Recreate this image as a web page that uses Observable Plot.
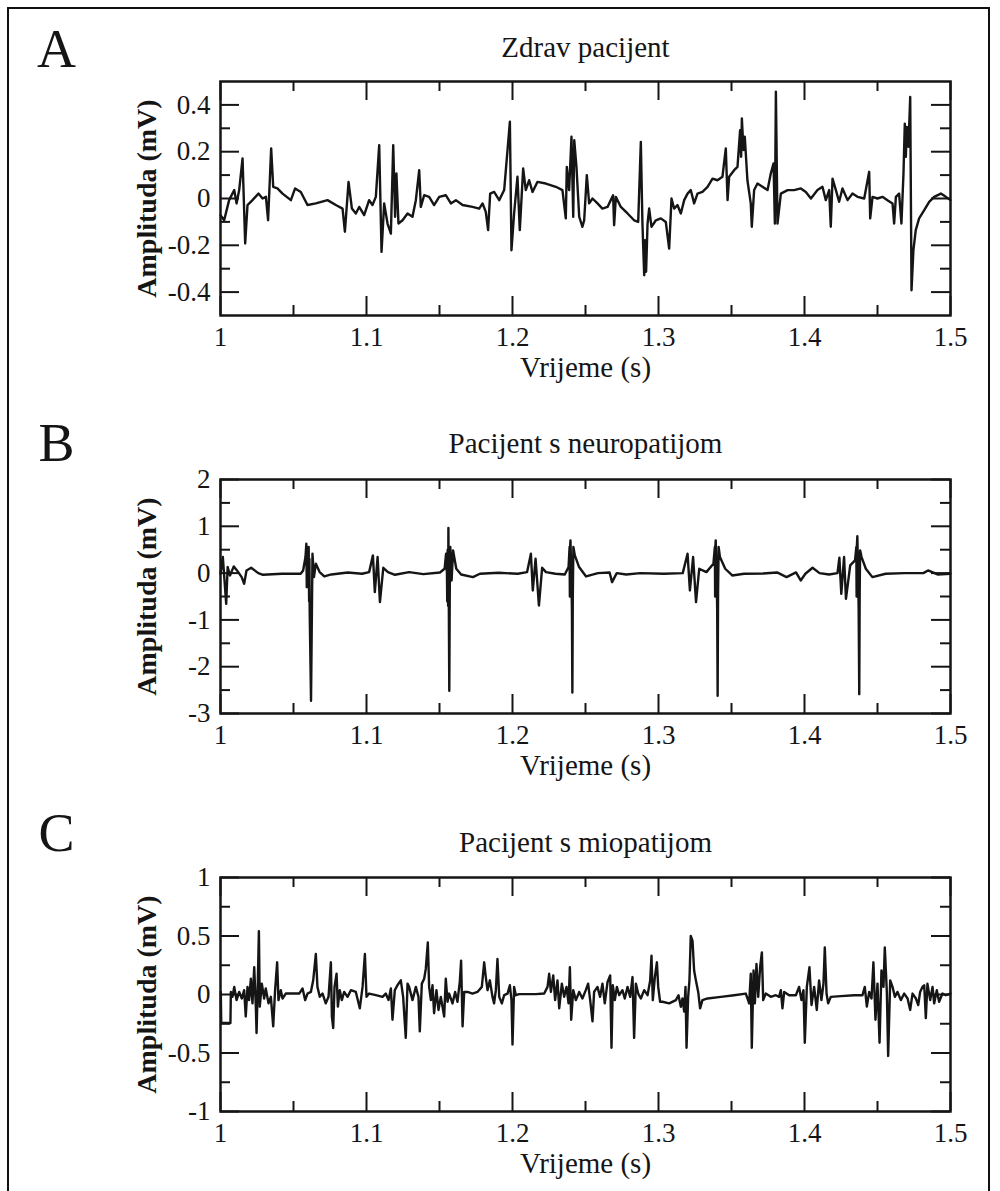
<!DOCTYPE html>
<html>
<head>
<meta charset="utf-8">
<script src="https://cdn.jsdelivr.net/npm/d3@7"></script>
<script src="https://cdn.jsdelivr.net/npm/@observablehq/plot@0.6"></script>
<style>
  html, body { margin: 0; padding: 0; background: #fff; overflow: hidden; }
  #page { position: relative; width: 1000px; height: 1191px; overflow: hidden; background: #fff; }
  #border { position: absolute; left: 7px; top: 7px; width: 983px; height: 1220px; border: 2px solid #111; box-sizing: border-box; }
  .panel { position: absolute; left: 0; }
  .panel svg text { font-family: 'Liberation Serif', 'Times New Roman', serif; }
</style>
</head>
<body>
<div id="page"><div id="border"></div></div>
<script>
// ---------- data ----------
const xTickValues = [1, 1.1, 1.2, 1.3, 1.4, 1.5];
const xTickLabels = ["1", "1.1", "1.2", "1.3", "1.4", "1.5"];
const xMinorTicks = [1.05, 1.15, 1.25, 1.35, 1.45];
const xAxisLabel = "Vrijeme (s)";
const yAxisLabel = "Amplituda (mV)";

const panelLetters = ["A", "B", "C"];
const panelTitles = ["Zdrav pacijent", "Pacijent s neuropatijom", "Pacijent s miopatijom"];

const aYDomain = [-0.5, 0.5];
const aYTicks = [-0.4, -0.2, 0, 0.2, 0.4];
const aYLabels = ["-0.4", "-0.2", "0", "0.2", "0.4"];
const aYMinor = [-0.3, -0.1, 0.1, 0.3];

const bYDomain = [-3, 2];
const bYTicks = [-3, -2, -1, 0, 1, 2];
const bYLabels = ["-3", "-2", "-1", "0", "1", "2"];
const bYMinor = [-2.5, -1.5, -0.5, 0.5, 1.5];

const cYDomain = [-1, 1];
const cYTicks = [-1, -0.5, 0, 0.5, 1];
const cYLabels = ["-1", "-0.5", "0", "0.5", "1"];
const cYMinor = [-0.75, -0.25, 0.25, 0.75];

// [time (s), amplitude (mV)]
const healthySignal = [
[1.0000,-0.071],[1.0025,-0.093],[1.0059,-0.007],[1.0094,0.036],[1.0110,-0.021],[1.0128,0.036],[1.0151,0.171],[1.0169,-0.192],[1.0185,-0.028],[1.0219,-0.007],
[1.0260,0.021],[1.0288,0],[1.0311,0.007],[1.0326,-0.093],[1.0347,0.214],[1.0361,0.050],[1.0390,0.043],[1.0425,0.021],[1.0482,-0.007],[1.0511,0.043],
[1.0550,0.028],[1.0596,-0.028],[1.0653,-0.021],[1.0733,-0.007],[1.0790,-0.028],[1.0836,-0.043],[1.0852,-0.142],[1.0877,0.071],[1.0900,-0.043],[1.0927,-0.064],
[1.0950,-0.036],[1.0984,-0.071],[1.1018,-0.007],[1.1041,-0.028],[1.1064,0.007],[1.1087,0.228],[1.1103,-0.228],[1.1121,-0.021],[1.1144,-0.107],[1.1167,-0.150],
[1.1183,0.228],[1.1196,-0.078],[1.1205,0.107],[1.1219,-0.107],[1.1247,-0.093],[1.1281,-0.064],[1.1315,-0.078],[1.1338,-0.007],[1.1361,0.121],[1.1372,-0.036],
[1.1395,0.014],[1.1429,0.007],[1.1463,-0.028],[1.1498,0.007],[1.1543,0.014],[1.1578,-0.021],[1.1612,-0.007],[1.1658,-0.028],[1.1726,-0.036],[1.1772,-0.043],
[1.1795,-0.021],[1.1817,-0.057],[1.1833,-0.135],[1.1847,0.021],[1.1874,0.028],[1.1909,-0.007],[1.1943,0.036],[1.1982,0.328],[1.1993,-0.221],[1.2011,-0.064],
[1.2034,0.093],[1.2050,-0.135],[1.2073,0.128],[1.2091,0.036],[1.2114,0.078],[1.2137,0.028],[1.2171,0.071],[1.2228,0.064],[1.2297,0.050],[1.2342,0.036],
[1.2365,-0.085],[1.2372,0.135],[1.2388,0.036],[1.2404,0.264],[1.2416,-0.078],[1.2423,0.249],[1.2438,0.135],[1.2457,-0.078],[1.2479,-0.121],[1.2491,-0.093],
[1.2509,0.100],[1.2525,-0.021],[1.2548,0],[1.2582,-0.021],[1.2616,-0.043],[1.2651,-0.036],[1.2673,-0.007],[1.2689,0.014],[1.2696,-0.114],[1.2708,0.007],
[1.2742,-0.036],[1.2788,-0.064],[1.2833,-0.093],[1.2861,-0.100],[1.2879,0.242],[1.2890,-0.107],[1.2902,-0.328],[1.2909,-0.178],[1.2915,-0.313],[1.2925,-0.107],
[1.2936,-0.043],[1.2952,-0.121],[1.2982,-0.093],[1.3016,-0.085],[1.3050,-0.100],[1.3073,-0.214],[1.3089,0],[1.3107,-0.043],[1.3130,-0.028],[1.3153,-0.064],
[1.3176,-0.007],[1.3199,0.021],[1.3221,0.036],[1.3244,-0.021],[1.3267,0.021],[1.3301,0.028],[1.3336,0.050],[1.3370,0.085],[1.3404,0.078],[1.3438,0.093],
[1.3461,0.214],[1.3473,-0.007],[1.3484,0.093],[1.3518,0.121],[1.3541,0.135],[1.3559,0.292],[1.3566,0.178],[1.3571,0.342],[1.3582,0.207],[1.3591,0.264],
[1.3609,0.078],[1.3632,-0.021],[1.3639,-0.121],[1.3655,0.036],[1.3678,0.064],[1.3712,0.050],[1.3747,0.036],[1.3769,0.107],[1.3788,0.150],[1.3797,-0.107],
[1.3804,0.456],[1.3815,-0.107],[1.3838,0.021],[1.3884,0.036],[1.3929,0.036],[1.3975,0.043],[1.4009,0.028],[1.4044,0],[1.4089,0.036],[1.4123,0.050],
[1.4146,-0.007],[1.4169,0.036],[1.4180,-0.121],[1.4192,0.085],[1.4215,0.036],[1.4237,-0.014],[1.4260,0.043],[1.4295,-0.007],[1.4329,0.021],[1.4363,0.007],
[1.4409,0],[1.4443,0.114],[1.4450,-0.085],[1.4466,0.007],[1.4500,0],[1.4534,0.007],[1.4568,-0.007],[1.4603,-0.021],[1.4614,-0.107],[1.4626,0.007],
[1.4648,0.021],[1.4664,-0.107],[1.4678,0.107],[1.4687,0.320],[1.4694,0.178],[1.4701,0.306],[1.4712,0.221],[1.4724,0.434],[1.4733,-0.392],[1.4746,-0.221],
[1.4762,-0.135],[1.4785,-0.085],[1.4820,-0.050],[1.4854,-0.014],[1.4888,0.007],[1.4934,0.021],[1.4968,0.007],[1.5000,-0.007]
];

const neuropathySignal = [
[1.0000,-0.014],[1.0016,0.343],[1.0039,-0.657],[1.0049,0.129],[1.0065,-0.050],[1.0091,0.143],[1.0113,0.057],[1.0145,-0.086],[1.0162,-0.229],[1.0178,0.057],
[1.0210,0.114],[1.0259,0],[1.0291,-0.036],[1.0420,-0.014],[1.0549,-0.014],[1.0566,0.057],[1.0582,0.343],[1.0588,0.629],[1.0591,-0.300],[1.0594,0.500],
[1.0598,-0.157],[1.0604,0.557],[1.0607,-0.600],[1.0609,0.300],[1.0611,-0.836],[1.0620,-2.729],[1.0630,0.414],[1.0640,-0.086],[1.0653,0.200],[1.0679,0.021],
[1.0711,-0.071],[1.0759,-0.029],[1.0872,0.014],[1.0969,-0.014],
[1.1018,0.021],[1.1044,0.379],[1.1057,-0.407],[1.1076,0.343],[1.1092,-0.621],[1.1115,0.114],[1.1147,0.021],[1.1195,-0.036],[1.1292,0.021],[1.1389,-0.021],
[1.1503,0.014],[1.1535,0.093],[1.1545,0.414],[1.1551,-0.014],[1.1553,-0.600],[1.1556,0.500],[1.1559,-0.700],[1.1561,0.964],[1.1567,-2.514],[1.1570,-0.600],
[1.1572,0.400],[1.1574,0.557],[1.1583,-0.157],[1.1593,0.486],[1.1615,0.093],
[1.1648,-0.029],[1.1729,-0.086],[1.1777,-0.014],[1.1906,0.007],[1.2036,-0.014],[1.2100,0.021],[1.2126,0.414],[1.2139,-0.371],[1.2158,0.307],[1.2181,-0.693],
[1.2203,0.114],[1.2229,0.021],[1.2294,-0.014],[1.2358,-0.029],[1.2384,0.129],[1.2391,0.557],[1.2393,-0.500],[1.2395,0.600],[1.2397,0.700],[1.2404,-0.157],
[1.2407,-0.800],[1.2410,-2.550],[1.2413,-0.500],[1.2417,0.557],
[1.2427,0.379],[1.2456,0.129],[1.2504,-0.071],[1.2585,0],[1.2665,0.014],[1.2682,-0.193],[1.2714,0],[1.2779,-0.029],[1.2876,0],[1.3037,-0.014],
[1.3166,0],[1.3199,0.414],[1.3215,-0.371],[1.3237,0.343],[1.3257,-0.621],[1.3279,0.093],[1.3328,0.021],[1.3376,0.200],[1.3386,0.557],[1.3388,-0.500],
[1.3390,0.600],[1.3392,0.700],[1.3399,-0.157],[1.3402,-0.800],[1.3405,-2.621],[1.3408,-0.400],[1.3412,0.557],[1.3421,0.343],[1.3457,0.093],[1.3505,-0.050],
[1.3586,-0.014],[1.3716,-0.007],[1.3812,0.014],[1.3877,-0.086],
[1.3942,0.014],[1.3974,-0.157],[1.4006,-0.014],[1.4055,0.114],[1.4103,0],[1.4168,-0.029],[1.4226,0],[1.4239,0.329],[1.4252,-0.443],[1.4271,0.343],
[1.4284,-0.550],[1.4313,0.164],[1.4346,0.271],[1.4355,0.557],[1.4357,-0.500],[1.4359,0.600],[1.4362,0.786],[1.4368,-0.157],[1.4371,-0.800],[1.4375,-2.586],
[1.4378,-0.400],[1.4381,0.486],[1.4391,0.343],[1.4420,0.093],
[1.4465,-0.086],[1.4556,-0.014],[1.4685,0],[1.4814,0],[1.4846,0.057],[1.4911,-0.029],[1.5000,-0.014]
];

const myopathySignal = [
[1.0002,0.022],[1.0005,-0.244],[1.0068,-0.244],[1.0071,0.022],[1.0082,-0.020],[1.0094,0.065],[1.0110,-0.048],[1.0128,0.022],[1.0146,-0.034],[1.0162,0.037],
[1.0173,-0.188],[1.0185,0.065],[1.0196,-0.048],[1.0208,0.135],[1.0219,-0.076],[1.0231,0.233],[1.0242,-0.104],[1.0247,-0.329],[1.0256,0.121],[1.0263,0.542],
[1.0269,-0.104],[1.0283,0.093],[1.0299,-0.034],[1.0310,0.051],[1.0329,-0.076],[1.0345,-0.020],[1.0361,-0.272],[1.0374,0.037],[1.0388,0.275],[1.0397,-0.048],
[1.0413,0.037],[1.0425,-0.034],[1.0447,0.008],[1.0493,0.008],[1.0539,0.008],[1.0562,0.051],[1.0580,-0.048],[1.0596,0.008],[1.0619,0.022],[1.0635,0.121],
[1.0653,0.346],[1.0664,0.065],[1.0680,-0.020],[1.0699,0.008],[1.0721,-0.076],[1.0740,-0.020],[1.0756,0.275],[1.0763,-0.188],[1.0772,-0.287],[1.0781,0.065],
[1.0795,0.177],[1.0804,-0.104],[1.0817,0.037],[1.0831,-0.048],[1.0847,0.022],[1.0870,-0.020],[1.0893,0.037],[1.0927,0.022],[1.0954,-0.118],[1.0973,0.065],
[1.0989,0.346],[1.1000,-0.020],[1.1018,0.008],[1.1064,-0.006],[1.1110,-0.020],[1.1132,0.008],[1.1151,-0.048],[1.1167,0.051],[1.1178,-0.216],[1.1194,0.037],
[1.1212,0.079],[1.1235,0.121],[1.1251,-0.020],[1.1269,-0.371],[1.1281,0.093],[1.1292,0.065],[1.1315,-0.048],[1.1338,0.065],[1.1356,-0.020],[1.1365,-0.315],
[1.1379,0.093],[1.1395,0.135],[1.1406,0.219],[1.1420,0.444],[1.1429,0.065],[1.1441,-0.048],[1.1452,0.079],[1.1463,-0.160],[1.1479,0.037],[1.1493,-0.132],
[1.1509,-0.020],[1.1532,-0.188],[1.1543,0.135],[1.1555,-0.062],[1.1566,0.008],[1.1589,-0.076],[1.1607,0.022],[1.1623,-0.062],[1.1639,0.107],[1.1648,0.289],
[1.1658,-0.272],[1.1669,0.022],[1.1692,0.022],[1.1726,0.008],[1.1760,0.022],[1.1790,0.065],[1.1806,0.275],[1.1817,0.149],[1.1829,0.037],[1.1845,0.121],
[1.1863,-0.020],[1.1874,-0.076],[1.1886,0.037],[1.1897,0.303],[1.1909,-0.020],[1.1927,-0.076],[1.1943,-0.006],[1.1966,0.008],[1.1982,0.079],[1.1993,-0.048],
[1.2000,-0.427],[1.2011,0.065],[1.2023,-0.006],[1.2046,0.003],[1.2091,0.003],[1.2160,0.003],[1.2217,0.008],[1.2240,0.065],[1.2251,0.177],[1.2263,0.022],
[1.2279,0.163],[1.2292,-0.048],[1.2308,0.121],[1.2320,-0.118],[1.2338,0.093],[1.2354,-0.020],[1.2370,0.065],[1.2384,-0.076],[1.2393,0.233],[1.2402,-0.216],
[1.2416,0.037],[1.2434,-0.048],[1.2457,0.022],[1.2479,-0.034],[1.2502,0.037],[1.2518,0.093],[1.2532,-0.048],[1.2548,-0.230],[1.2559,0.022],[1.2582,0.065],
[1.2600,-0.020],[1.2616,0.093],[1.2632,-0.076],[1.2651,0.107],[1.2669,0.163],[1.2678,-0.455],[1.2687,0.079],[1.2701,-0.048],[1.2715,0.065],[1.2731,-0.006],
[1.2753,0.037],[1.2769,-0.034],[1.2788,0.065],[1.2806,-0.020],[1.2822,0.149],[1.2833,-0.371],[1.2845,0.093],[1.2861,0.008],[1.2879,-0.034],[1.2902,0.037],
[1.2925,-0.006],[1.2943,0.121],[1.2952,0.331],[1.2961,-0.048],[1.2975,0.149],[1.2989,0.275],[1.2998,0.065],[1.3011,-0.062],[1.3027,-0.062],[1.3073,-0.076],
[1.3119,-0.048],[1.3137,-0.006],[1.3153,-0.104],[1.3164,-0.034],[1.3176,-0.146],[1.3185,0.065],[1.3192,-0.455],[1.3203,-0.020],[1.3212,0.121],[1.3221,0.500],
[1.3233,0.458],[1.3244,0.205],[1.3256,0.121],[1.3272,0.022],[1.3285,-0.118],[1.3301,-0.048],[1.3336,-0.034],[1.3427,-0.020],[1.3518,-0.006],[1.3598,0.008],
[1.3621,-0.076],[1.3632,0.177],[1.3639,-0.455],[1.3651,0.205],[1.3660,-0.076],[1.3671,0.261],[1.3683,-0.020],[1.3696,0.233],[1.3708,0.360],[1.3717,-0.048],
[1.3735,0.008],[1.3769,-0.020],[1.3804,-0.006],[1.3826,-0.020],[1.3838,0.037],[1.3849,-0.118],[1.3861,0.022],[1.3895,-0.006],[1.3941,-0.006],[1.3963,0.065],
[1.3979,-0.048],[1.3993,0.037],[1.4002,-0.413],[1.4016,0.065],[1.4034,0.233],[1.4048,-0.090],[1.4066,0.065],[1.4084,-0.132],[1.4100,0.121],[1.4116,-0.048],
[1.4130,0.093],[1.4139,0.402],[1.4151,0.008],[1.4162,-0.076],[1.4180,-0.020],[1.4249,-0.014],[1.4340,-0.006],[1.4397,-0.006],[1.4413,0.065],[1.4427,-0.104],
[1.4443,0.022],[1.4459,-0.034],[1.4472,0.275],[1.4486,-0.216],[1.4500,0.093],[1.4514,-0.413],[1.4527,0.205],[1.4541,0.065],[1.4550,0.402],[1.4564,0.022],
[1.4573,-0.525],[1.4587,0.121],[1.4603,0.065],[1.4619,-0.020],[1.4637,0.022],[1.4660,-0.048],[1.4683,0.008],[1.4706,-0.034],[1.4724,-0.132],[1.4740,0.008],
[1.4763,-0.034],[1.4779,-0.090],[1.4792,0.022],[1.4808,0.065],[1.4820,0.079],[1.4831,-0.202],[1.4842,0.093],[1.4861,-0.048],[1.4877,0.065],[1.4888,-0.076],
[1.4906,0.037],[1.4922,-0.062],[1.4945,0.008],[1.4968,-0.006],[1.5000,0.008]
];

// ---------- drawing ----------
const INK = "#151515";
const FONT = "'Liberation Serif', 'Times New Roman', serif";

function drawPanel(cfg) {
  const W = 1000, H = 400, mt = 81, mb = 85, ml = 220, mr = 50;
  const fw = W - ml - mr, fh = H - mt - mb;
  const major = 19, minor = 10;
  const tickStyle = {stroke: INK, strokeWidth: 2};
  const xFmt = d => xTickLabels[xTickValues.indexOf(d)];
  const yFmt = d => cfg.yLabels[cfg.yTicks.indexOf(d)];
  const plot = Plot.plot({
    width: W, height: H,
    marginTop: mt, marginBottom: mb, marginLeft: ml, marginRight: mr,
    style: `font-family: ${FONT}; font-size: 27px; color: ${INK}; background: transparent; overflow: visible;`,
    x: {domain: [1, 1.5]},
    y: {domain: cfg.yDomain},
    marks: [
      Plot.line(cfg.signal, {x: d => d[0], y: d => d[1], stroke: INK, strokeWidth: 2.4, strokeLinejoin: "round"}),
      // inward ticks, top and bottom
      Plot.tickX(xTickValues, {x: d => d, insetBottom: fh - major, ...tickStyle}),
      Plot.tickX(xTickValues, {x: d => d, insetTop: fh - major, ...tickStyle}),
      Plot.tickX(xMinorTicks, {x: d => d, insetBottom: fh - minor, ...tickStyle}),
      Plot.tickX(xMinorTicks, {x: d => d, insetTop: fh - minor, ...tickStyle}),
      // inward ticks, left and right
      Plot.tickY(cfg.yTicks, {y: d => d, insetRight: fw - major, ...tickStyle}),
      Plot.tickY(cfg.yTicks, {y: d => d, insetLeft: fw - major, ...tickStyle}),
      Plot.tickY(cfg.yMinor, {y: d => d, insetRight: fw - minor, ...tickStyle}),
      Plot.tickY(cfg.yMinor, {y: d => d, insetLeft: fw - minor, ...tickStyle}),
      Plot.frame({stroke: INK, strokeWidth: 2.5}),
      Plot.axisX(xTickValues, {anchor: "bottom", tickSize: 0, tickPadding: 11, tickFormat: xFmt, label: null, fontSize: 27}),
      Plot.axisY(cfg.yTicks, {anchor: "left", tickSize: 0, tickPadding: 10, tickFormat: yFmt, label: null, fontSize: 27}),
      Plot.text([xAxisLabel], {text: d => d, frameAnchor: "bottom", lineAnchor: "middle", dy: 52, fontSize: 29}),
      Plot.text([yAxisLabel], {text: d => d, frameAnchor: "left", lineAnchor: "middle", textAnchor: "middle", dx: -73, rotate: -90, fontSize: 28, fontWeight: "bold"}),
      Plot.text([cfg.title], {text: d => d, frameAnchor: "top", lineAnchor: "middle", textAnchor: "middle", dy: cfg.titleDy, fontSize: 29}),
      Plot.text([cfg.letter], {text: d => d, frameAnchor: "top-left", lineAnchor: "middle", textAnchor: "middle", dx: -164, dy: cfg.letterDy, fontSize: 54})
    ]
  });
  const wrap = document.createElement("div");
  wrap.className = "panel";
  wrap.style.top = cfg.top + "px";
  wrap.appendChild(plot);
  document.getElementById("page").appendChild(wrap);
}

drawPanel({signal: healthySignal, yDomain: aYDomain, yTicks: aYTicks, yLabels: aYLabels, yMinor: aYMinor,
  title: panelTitles[0], letter: panelLetters[0], top: 0, titleDy: -34, letterDy: -32});
drawPanel({signal: neuropathySignal, yDomain: bYDomain, yTicks: bYTicks, yLabels: bYLabels, yMinor: bYMinor,
  title: panelTitles[1], letter: panelLetters[1], top: 398, titleDy: -36, letterDy: -36});
drawPanel({signal: myopathySignal, yDomain: cYDomain, yTicks: cYTicks, yLabels: cYLabels, yMinor: cYMinor,
  title: panelTitles[2], letter: panelLetters[2], top: 796, titleDy: -35, letterDy: -44});
</script>
</body>
</html>
